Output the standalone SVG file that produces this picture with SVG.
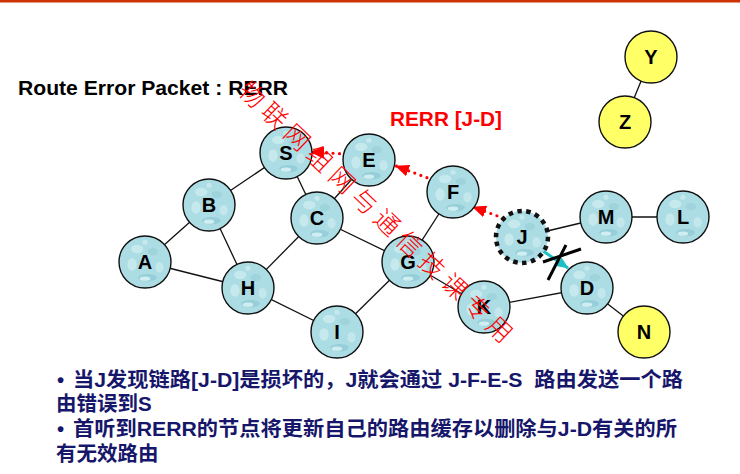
<svg xmlns="http://www.w3.org/2000/svg" width="740" height="474" viewBox="0 0 740 474">
<style>
.edge line{stroke:#111;stroke-width:1.3}
.n circle{fill:url(#bub);stroke:#111;stroke-width:1.4}
.yel circle{fill:#ffff66;stroke:#111;stroke-width:1.4}
.l{font-family:"Liberation Sans",Arial,sans-serif;font-weight:bold;font-size:20px;text-anchor:middle;fill:#000}
.rd{stroke:#ff0000;stroke-width:3.2;stroke-dasharray:0 6.5;stroke-linecap:round;fill:none}
.bt{font-family:"Liberation Sans","Noto Sans CJK SC",sans-serif;font-weight:bold;font-size:20.5px;fill:#16166a}
</style>
<defs>
<pattern id="bub" patternUnits="objectBoundingBox" width="1" height="1" patternContentUnits="objectBoundingBox">
<rect width="1" height="1" fill="#acdce4"/>
<ellipse cx="0.35" cy="0.25" rx="0.12" ry="0.08" fill="#c6e9ee"/>
<ellipse cx="0.65" cy="0.3" rx="0.1" ry="0.07" fill="#9fd4dd"/>
<ellipse cx="0.25" cy="0.55" rx="0.09" ry="0.12" fill="#c6e9ee"/>
<ellipse cx="0.78" cy="0.6" rx="0.08" ry="0.1" fill="#c2e7ec"/>
<ellipse cx="0.55" cy="0.8" rx="0.18" ry="0.07" fill="#96cfd9"/>
<ellipse cx="0.5" cy="0.82" rx="0.1" ry="0.04" fill="#d0eef2"/>
<circle cx="0.5" cy="0.12" r="0.05" fill="#c6e9ee"/>
</pattern>
<marker id="ra" markerUnits="userSpaceOnUse" markerWidth="14" markerHeight="12" refX="13" refY="6" orient="auto">
<path d="M0,0 L14,6 L0,12 Z" fill="#ff0000"/>
</marker>
<marker id="ca" markerUnits="userSpaceOnUse" markerWidth="12" markerHeight="10" refX="11" refY="5" orient="auto">
<path d="M0,0 L12,5 L0,10 Z" fill="#1ec0c4"/>
</marker>
</defs>
<rect width="740" height="474" fill="#fff"/>
<rect x="0" y="0" width="740" height="2.5" fill="#cc3300"/>

<text x="18" y="95" font-family="Liberation Sans,Arial,sans-serif" font-weight="bold" font-size="20" textLength="270" lengthAdjust="spacingAndGlyphs" fill="#000">Route Error Packet : RERR</text>
<text x="390" y="126" font-family="Liberation Sans,Arial,sans-serif" font-weight="bold" font-size="20" textLength="112" lengthAdjust="spacingAndGlyphs" fill="#ff0000">RERR [J-D]</text>

<g id="connectors">
<g class="edge">
<line x1="286" y1="153" x2="209" y2="205"/>
<line x1="286" y1="153" x2="317" y2="218"/>
<line x1="209" y1="205" x2="145" y2="262"/>
<line x1="209" y1="205" x2="248" y2="288"/>
<line x1="145" y1="262" x2="248" y2="288"/>
<line x1="248" y1="288" x2="317" y2="218"/>
<line x1="248" y1="288" x2="337" y2="332"/>
<line x1="317" y1="218" x2="408" y2="262"/>
<line x1="317" y1="218" x2="369" y2="160"/>
<line x1="337" y1="332" x2="408" y2="262"/>
<line x1="408" y1="262" x2="453" y2="192"/>
<line x1="408" y1="262" x2="484" y2="307"/>
<line x1="484" y1="307" x2="587" y2="288"/>
<line x1="587" y1="288" x2="644" y2="332"/>
<line x1="522" y1="237" x2="606" y2="217"/>
<line x1="606" y1="217" x2="683" y2="217"/>
<line x1="651" y1="57" x2="625" y2="120"/>
</g>
<line class="rd" x1="503" y1="218" x2="473" y2="207" marker-end="url(#ra)"/>
<line class="rd" x1="433" y1="180" x2="396" y2="166" marker-end="url(#ra)"/>
<line class="rd" x1="346" y1="154" x2="311" y2="152" marker-end="url(#ra)"/>
<line x1="543" y1="251" x2="568" y2="268" stroke="#1ec0c4" stroke-width="3" marker-end="url(#ca)"/>
<line x1="543" y1="262" x2="581" y2="249" stroke="#000" stroke-width="3"/>
<line x1="548" y1="280" x2="566" y2="245" stroke="#000" stroke-width="3"/>
</g>

<g id="node-S" class="n"><circle cx="286" cy="153" r="26"/><text class="l" x="286" y="160">S</text></g>
<g id="node-E" class="n"><circle cx="369" cy="160" r="26"/><text class="l" x="369" y="167">E</text></g>
<g id="node-F" class="n"><circle cx="453" cy="192" r="26"/><text class="l" x="453" y="199">F</text></g>
<g id="node-B" class="n"><circle cx="209" cy="205" r="26"/><text class="l" x="209" y="212">B</text></g>
<g id="node-C" class="n"><circle cx="317" cy="218" r="26"/><text class="l" x="317" y="225">C</text></g>
<g id="node-A" class="n"><circle cx="145" cy="262" r="26"/><text class="l" x="145" y="269">A</text></g>
<g id="node-H" class="n"><circle cx="248" cy="288" r="26"/><text class="l" x="248" y="295">H</text></g>
<g id="node-I" class="n"><circle cx="337" cy="332" r="26"/><text class="l" x="337" y="339">I</text></g>
<g id="node-G" class="n"><circle cx="408" cy="262" r="26"/><text class="l" x="408" y="269">G</text></g>
<g id="node-K" class="n"><circle cx="484" cy="307" r="26"/><text class="l" x="484" y="314">K</text></g>
<g id="node-J" class="n"><circle cx="522" cy="237" r="26" style="stroke-width:4.5;stroke-dasharray:4.5 4.5"/><text class="l" x="522" y="244">J</text></g>
<g id="node-M" class="n"><circle cx="606" cy="217" r="26"/><text class="l" x="606" y="224">M</text></g>
<g id="node-L" class="n"><circle cx="683" cy="217" r="26"/><text class="l" x="683" y="224">L</text></g>
<g id="node-D" class="n"><circle cx="587" cy="288" r="26"/><text class="l" x="587" y="295">D</text></g>
<g id="node-N" class="yel"><circle cx="644" cy="332" r="26"/><text class="l" x="644" y="339">N</text></g>
<g id="node-Y" class="yel"><circle cx="651" cy="57" r="26"/><text class="l" x="651" y="64">Y</text></g>
<g id="node-Z" class="yel"><circle cx="625" cy="122" r="26"/><text class="l" x="625" y="129">Z</text></g>

<text class="bt" x="57" y="387">•</text>
<text class="bt" x="73" y="387" textLength="610" lengthAdjust="spacingAndGlyphs" xml:space="preserve">当J发现链路[J-D]是损坏的，J就会通过 J-F-E-S  路由发送一个路</text>
<text class="bt" x="56" y="411">由错误到S</text>
<text class="bt" x="57" y="436">•</text>
<text class="bt" x="73" y="436" textLength="604" lengthAdjust="spacingAndGlyphs">首听到RERR的节点将更新自己的路由缓存以删除与J-D有关的所</text>
<text class="bt" x="56" y="461">有无效路由</text>

<text transform="translate(243,86) rotate(43.5)" x="0" y="9" font-family="Noto Sans CJK SC,sans-serif" font-weight="300" font-size="25" letter-spacing="6" fill="#ff0000">物联网组网与通信技课专用</text>
</svg>
